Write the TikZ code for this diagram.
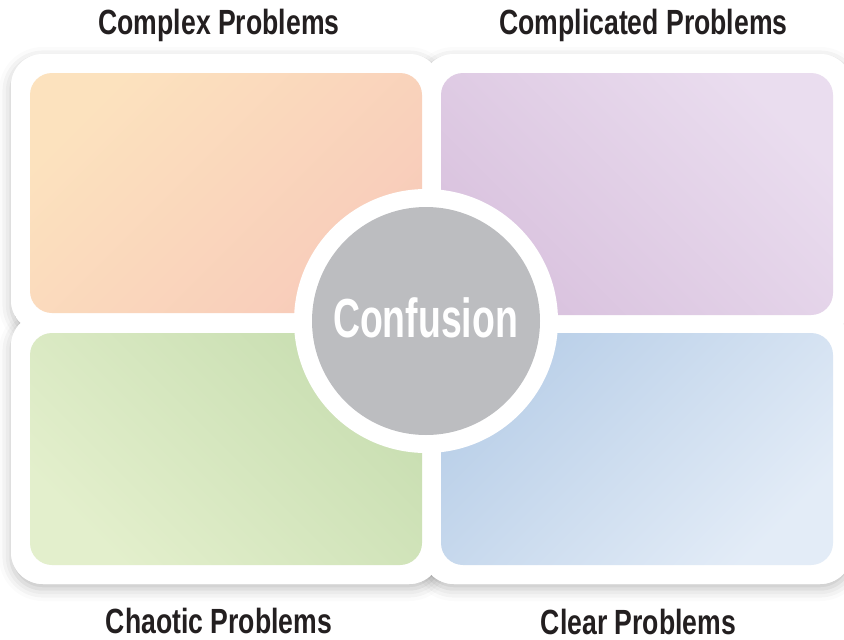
\documentclass[tikz,border=0pt]{standalone}
\usepackage{fontspec}
\newfontfamily\titlefont[FakeStretch=0.76]{Liberation Sans}
\newfontfamily\centerfont[FakeStretch=0.68]{Liberation Sans}
\usetikzlibrary{shadows.blur}
\definecolor{txt}{HTML}{231F20}
\definecolor{orA}{HTML}{FCE2BE}
\definecolor{orB}{HTML}{F8CBBA}
\definecolor{puA}{HTML}{EADDEF}
\definecolor{puB}{HTML}{D9C2DE}
\definecolor{grA}{HTML}{E3EFCC}
\definecolor{grB}{HTML}{C8DEB1}
\definecolor{blA}{HTML}{B9CFE8}
\definecolor{blB}{HTML}{E3ECF7}
\definecolor{circ}{HTML}{BCBDC0}
\tikzset{
  outerbox/.style={rectangle, rounded corners=32pt, fill=white, inner sep=0pt, outer sep=0pt,
    minimum width=430pt},
  shadowed/.style={blur shadow={shadow xshift=0pt, shadow yshift=-5pt, shadow blur radius=12pt, shadow opacity=25}},
  innerbox/.style={rectangle, rounded corners=22pt, inner sep=0pt, outer sep=0pt,
    minimum width=392pt, shading=axis},
  title/.style={font=\titlefont\bfseries\fontsize{35}{38}\selectfont, text=txt, anchor=base, inner sep=0pt},
}
\begin{document}
\begin{tikzpicture}[x=1pt,y=-1pt]
\useasboundingbox (0,0) rectangle (844,640);
% shadows + white outer frames
\foreach \px/\py/\h in {226/193/278, 637/194/280, 226/449/270, 637/449/270}{
  \node[outerbox, shadowed, minimum height=\h pt] at (\px,\py) {};
}
\node[outerbox, minimum height=278pt] (oTL) at (226,193) {};
\node[outerbox, minimum height=280pt] (oTR) at (637,194) {};
\node[outerbox, minimum height=270pt] (oBL) at (226,449) {};
\node[outerbox, minimum height=270pt] (oBR) at (637,449) {};
% coloured panels
\node[innerbox, minimum height=240pt, top color=orA, bottom color=orB, shading angle=45] (TL) at (226,193) {};
\node[innerbox, minimum height=242pt, top color=puA, bottom color=puB, shading angle=-45] (TR) at (637,194) {};
\node[innerbox, minimum height=232pt, top color=grB, bottom color=grA, shading angle=-45] (BL) at (226,449) {};
\node[innerbox, minimum height=232pt, top color=blA, bottom color=blB, shading angle=45] (BR) at (637,449) {};
% centre circle
\node[circle, fill=white, minimum size=264pt, inner sep=0pt] (ring) at (426,321) {};
\node[circle, fill=circ, minimum size=228pt, inner sep=0pt] (conf) at (426,321) {};
\node[font=\centerfont\bfseries\fontsize{55}{60}\selectfont, text=white, anchor=base, inner sep=0pt] (conftxt) at (425.5,337) {Confusion};
% titles
\node[title] (tTL) at (219,34) {Complex Problems};
\node[title] (tTR) at (643.5,34) {Complicated Problems};
\node[title] (tBL) at (219,633) {Chaotic Problems};
\node[title] (tBR) at (638.5,634) {Clear Problems};
\end{tikzpicture}
\end{document}
